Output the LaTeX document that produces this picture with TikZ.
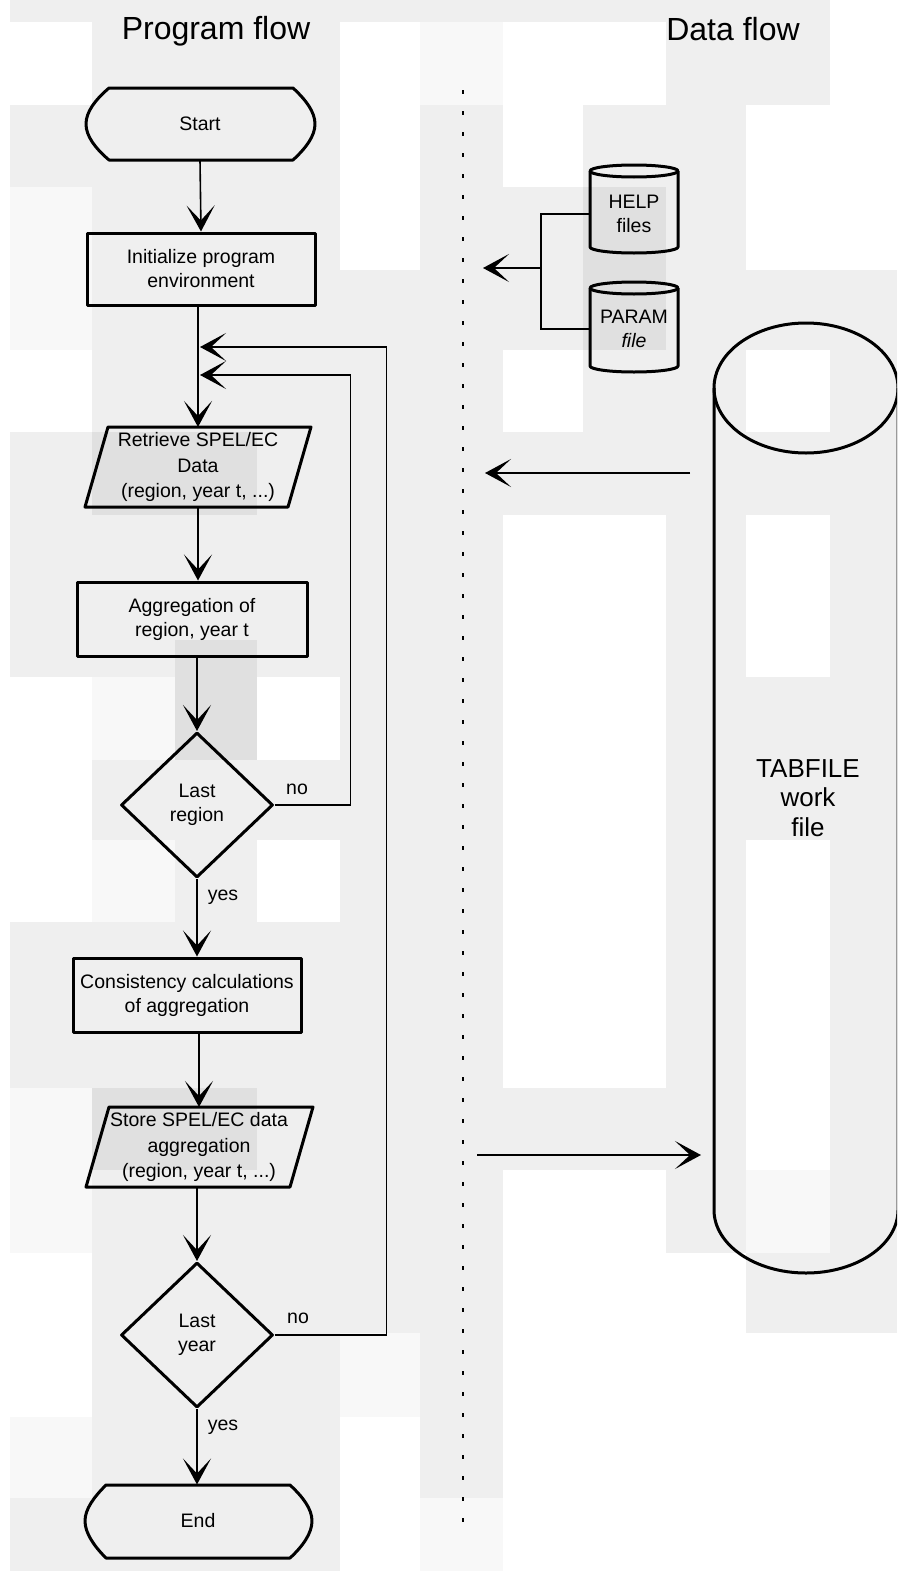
\documentclass[tikz,border=0pt]{standalone}
\usepackage{fontspec}
\setmainfont{Liberation Sans}
\usetikzlibrary{arrows.meta,shapes.geometric,calc}
\definecolor{bgG}{HTML}{EFEFEF}
\definecolor{bgL}{HTML}{F8F8F8}
\definecolor{bgD}{HTML}{E0E0E0}
\begin{document}
\begin{tikzpicture}[x=1pt,y=-1pt,
  box/.style={line width=3pt,line join=round},
  conn/.style={line width=1.6pt},
  arr/.style={conn,-{Stealth[length=26pt,width=28pt,inset=15pt,line width=2.6pt]}},
  txt/.style={font=\fontsize{19.5}{24}\selectfont,align=center},
  txtthree/.style={font=\fontsize{19.5}{25.5}\selectfont,align=center},
  holder/.style={rectangle,draw=none,inner sep=0pt,outer sep=0pt},
  rectbox/.style={rectangle,draw,box,inner sep=0pt,txt},
  decision/.style={diamond,draw,box,inner sep=0pt,aspect=1,txt,minimum width=152pt,minimum height=145pt},
  lbl/.style={font=\fontsize{19.5}{24}\selectfont},
  title/.style={font=\fontsize{32}{36}\selectfont}
]
\useasboundingbox (0,0) rectangle (897,1571);
\clip (0,0) rectangle (897,1571);
% ---------- background blocks ----------
\fill[bgG] (0,0) rectangle (897,1571);
\foreach \a/\b/\c/\d in {0/0/10/1571, 0/22/92/105, 340/22/420/270, 503/22/583/187, 583/22/666/105,
  830/0/897/105, 746/105/897/270, 503/350/583/432, 746/350/830/432, 10/350/92/432,
  10/677/92/922, 257/677/340/760, 257/840/340/922, 503/515/666/1088, 746/515/830/677,
  746/840/830/1170, 503/1170/666/1571, 666/1253/746/1571, 746/1333/897/1571,
  10/1253/92/1417, 340/1417/420/1571}
  \fill[white] (\a,\b) rectangle (\c,\d);
\foreach \a/\b/\c/\d in {420/22/503/105, 10/187/92/350, 92/677/175/760, 92/840/175/922,
  10/1088/92/1253, 10/1417/92/1498, 340/1333/420/1417, 420/1498/503/1571, 746/1170/830/1253}
  \fill[bgL] (\a,\b) rectangle (\c,\d);
\foreach \a/\b/\c/\d in {92/432/257/515, 175/640/257/760, 92/1088/257/1170, 583/187/666/350}
  \fill[bgD] (\a,\b) rectangle (\c,\d);
% ---------- titles ----------
\node[title] (tprog) at (216,31) {Program flow};
\node[title] (tdata) at (733,29) {Data flow};
% ---------- divider ----------
\draw[line width=2pt,dash pattern=on 4pt off 17pt] (463,90) -- (463,1530);
% ---------- program flow nodes ----------
\node[holder,txt,minimum width=230pt,minimum height=72pt] (start) at (200,124) {Start};
\draw[box] (109,88) -- (293,88) .. controls (306,100) and (315,112) .. (315,124)
  .. controls (315,136) and (306,148) .. (293,160) -- (109,160)
  .. controls (95,148) and (86,136) .. (86,124) .. controls (86,112) and (95,100) .. (109,88) -- cycle;
\node[rectbox,minimum width=228pt,minimum height=72pt] (init) at (201,269) {Initialize program\\environment};
\node[holder,txtthree,minimum width=204pt,minimum height=80pt] (ret) at (198,467) {Retrieve SPEL/EC\\Data\\(region, year t, ...)};
\draw[box] (108,427) -- (311,427) -- (288,507) -- (85,507) -- cycle;
\node[rectbox,minimum width=230pt,minimum height=74pt] (agg) at (192,619) {Aggregation of\\region, year t};
\node[decision] (lr) at (197,805) {Last\\region};
\node[rectbox,minimum width=228pt,minimum height=74pt] (cons) at (187,995) {Consistency calculations\\of aggregation};
\node[holder,txtthree,minimum width=204pt,minimum height=80pt] (store) at (199,1147) {Store SPEL/EC data\\aggregation\\(region, year t, ...)};
\draw[box] (109,1107) -- (313,1107) -- (290,1187) -- (86,1187) -- cycle;
\node[decision] (ly) at (197,1335) {Last\\year};
\node[holder,txt,minimum width=228pt,minimum height=73pt] (end) at (198,1521) {End};
\draw[box] (106,1485) -- (290,1485) .. controls (303,1497) and (312,1509) .. (312,1521)
  .. controls (312,1533) and (303,1546) .. (290,1558) -- (106,1558)
  .. controls (94,1546) and (85,1533) .. (85,1521) .. controls (85,1509) and (94,1497) .. (106,1485) -- cycle;
% ---------- program flow connectors ----------
\coordinate (j2) at (200,347);
\coordinate (j1) at (200,375);
\draw[arr] (start.south) -- (init.north);
\draw[arr] (init.south -| ret.north) -- (ret.north);
\draw[arr] (ret.south) -- (ret.south |- agg.north);
\draw[arr] (agg.south -| lr.north) -- (lr.north);
\draw[arr] (lr.south) -- (lr.south |- cons.north);
\draw[arr] (cons.south -| store.north) -- (store.north);
\draw[arr] (store.south -| ly.north) -- (ly.north);
\draw[arr] (ly.south) -- (ly.south |- end.north);
\draw[arr] (lr.east) -- ++(76,0) |- (j1);
\draw[arr] (ly.east) -- ++(112,0) |- (j2);
\node[lbl] (nor) at (297,789) {no};
\node[lbl] (yesr) at (223,897) {yes};
\node[lbl] (noy) at (298,1318) {no};
\node[lbl] (yesy) at (223,1427) {yes};
% ---------- data flow ----------
\draw[box] (634,171) ellipse [x radius=44pt,y radius=6pt];
\draw[box] (590,171) -- (590,247) arc[start angle=180,end angle=360,x radius=44pt,y radius=6pt] -- (678,171);
\node[holder,txt,minimum width=88pt] (help) at (634,214) {HELP\\files};
\draw[box] (634,288) ellipse [x radius=44pt,y radius=6pt];
\draw[box] (590,288) -- (590,366) arc[start angle=180,end angle=360,x radius=44pt,y radius=6pt] -- (678,288);
\node[holder,txt,minimum width=88pt] (param) at (634,329) {PARAM\\\textit{file}};
\coordinate (bus) at (541,268);
\coordinate (d1) at (483,268);
\draw[conn] (help.west) -| (bus) |- (param.west);
\draw[arr] (bus) -- (d1);
% big cylinder
\draw[box] (806,388) ellipse [x radius=92pt,y radius=65pt];
\draw[box] (714,388) -- (714,1210) arc[start angle=180,end angle=360,x radius=92pt,y radius=63pt] -- (898,388);
\node[holder,font=\fontsize{26}{29.5}\selectfont,align=center] (tab) at (808,798) {TABFILE\\work\\file};
\coordinate (t1) at (690,473);
\coordinate (d2) at (485,473);
\draw[arr] (t1) -- (d2);
\coordinate (d3) at (477,1155);
\coordinate (t2) at (701,1155);
\draw[arr] (d3) -- (t2);
\end{tikzpicture}
\end{document}
